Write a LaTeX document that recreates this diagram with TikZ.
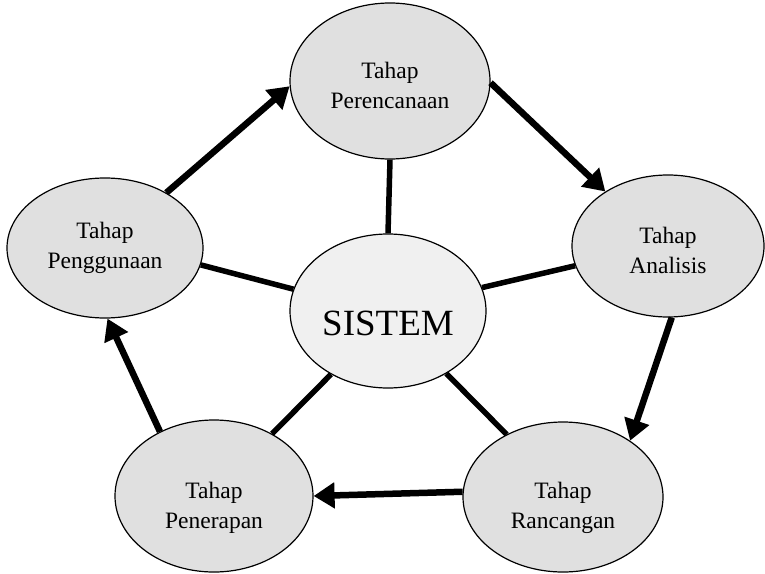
\documentclass[tikz,border=0pt]{standalone}
\usepackage{fontspec}
\setmainfont{Liberation Serif}
\usetikzlibrary{shapes.geometric,arrows.meta}

% invisible strut on the first line, used to push a label down inside its ellipse
\newcommand{\txtdrop}[1]{\rule{0pt}{#1}}

\begin{document}
\begin{tikzpicture}[x=1pt,y=-1pt,
  stage/.style={ellipse, draw=black, line width=1.2pt, fill=black!12,
    inner sep=0pt, align=center,
    font=\fontsize{23.5}{30}\selectfont},
  hub/.style={ellipse, draw=black, line width=1.2pt, fill=black!6,
    inner sep=0pt, align=center,
    font=\fontsize{37}{44}\selectfont},
  flow/.style={line width=6.5pt, -{Triangle[length=21pt,width=25pt]}},
  spoke/.style={line width=5.5pt}]

\useasboundingbox (0,0) rectangle (765,573);

% outer stages
\node[stage, minimum width=200pt, minimum height=156pt] (pl) at (390,81)  {\txtdrop{26pt}Tahap\\Perencanaan};
\node[stage, minimum width=192pt, minimum height=142pt] (an) at (668,246) {\txtdrop{26pt}Tahap\\Analisis};
\node[stage, minimum width=200pt, minimum height=150pt] (rc) at (563,497) {\txtdrop{39pt}Tahap\\Rancangan};
\node[stage, minimum width=198pt, minimum height=152pt] (pn) at (214,496) {\txtdrop{39pt}Tahap\\Penerapan};
\node[stage, minimum width=196pt, minimum height=140pt] (pg) at (105,248) {Tahap\\Penggunaan};

% hub
\node[hub, minimum width=196pt, minimum height=154pt] (si) at (388,311) {\txtdrop{50pt}SISTEM};

% spokes from the hub
\draw[spoke] (si.north) -- (pl.south);
\draw[spoke] (si.14)    -- (an.192);
\draw[spoke] (si.-47)   -- (rc.132);
\draw[spoke] (si.228)   -- (pn.47);
\draw[spoke] (si.167)   -- (pg.-10);

% cycle arrows
\draw[flow] (pg.42)  -- (pl.183);
\draw[flow] (pl.-1)  -- (an.139);
\draw[flow] (an.-87) -- (rc.40);
\draw[flow] (rc.177) -- (pn.east);
\draw[flow] (pn.130) -- (pg.-88);
\end{tikzpicture}
\end{document}
